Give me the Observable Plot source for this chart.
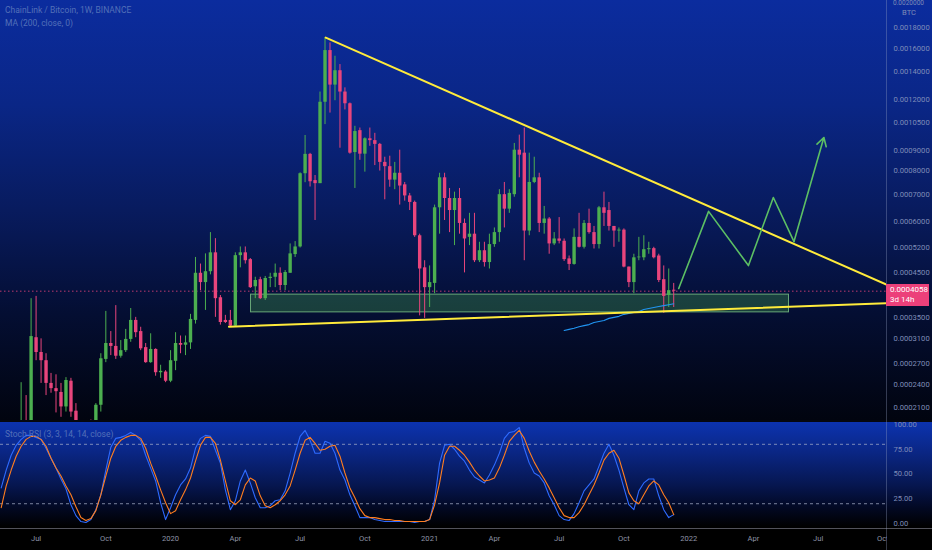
<!DOCTYPE html>
<html>
<head>
<meta charset="utf-8">
<script src="https://cdn.jsdelivr.net/npm/d3@7"></script>
<script src="https://cdn.jsdelivr.net/npm/@observablehq/plot@0.6"></script>
<style>
  body { margin: 0; background: #000; font-family: Roboto, sans-serif; }
  #wrap { position: relative; width: 932px; height: 550px; overflow: hidden; background: #000; }
  #wrap svg { display: block; }
  .lbl { position: absolute; font-size: 8.5px; color: #5370b8; white-space: nowrap; }
  .vline { position: absolute; left: 886px; top: 0; width: 1px; height: 550px; background: rgba(150,160,195,0.35); }
  .hline { position: absolute; left: 0; width: 932px; height: 1px; }
  #price { position: absolute; left: 886px; width: 43px; height: 22px; background: #ec407a; color: #fff;
           font-size: 8px; line-height: 10px; padding: 1px 0 0 4px; box-sizing: border-box; }
</style>
</head>
<body>
<div id="wrap"></div>
<script>
// weekly candles, LINK/BTC, values in 1e-4 BTC, first candle = week of 2019-06-10
const firstWeek = new Date("2019-06-10");
const open = [1.30,1.90,1.80,3.12,2.87,2.74,2.41,2.34,2.29,2.11,
  2.44,2.06,1.90,1.80,1.92,1.90,2.13,2.76,3.02,2.97,
  2.81,2.90,3.09,3.44,3.23,2.95,2.71,2.92,2.56,2.57,
  2.44,2.73,3.02,2.99,3.03,3.44,4.49,4.26,4.53,5.04,
  3.91,3.44,3.44,3.33,4.96,5.04,4.85,4.16,4.33,3.89,
  4.36,4.39,4.49,4.19,4.49,4.99,5.21,7.88,8.79,7.58,
  7.45,11.8,15.8,13.0,14.1,12.5,11.7,8.88,10.05,8.80,
  9.6,9.5,9.3,8.4,8.2,7.6,7.9,7.4,6.95,6.7,
  5.55,4.63,4.14,4.24,6.5,7.7,6.85,6.4,6.85,5.95,
  5.5,5.6,4.82,5.1,4.77,5.28,5.65,7.0,6.45,7.0,
  9.0,8.85,5.7,7.5,7.7,5.95,6.1,5.3,5.45,5.38,
  4.87,4.72,5.5,5.2,5.95,5.65,5.28,6.5,6.4,5.85,
  5.7,5.73,4.65,4.26,4.9,4.9,5.13,5.16,4.95,4.33,
  3.96,4.08];
const high = [2.42,2.25,3.89,3.94,3.10,2.85,2.55,2.53,2.41,2.49,
  2.48,2.15,1.94,1.93,1.96,2.15,2.85,3.62,3.23,3.74,
  3.07,3.27,3.68,3.50,3.31,3.02,3.19,2.93,2.67,2.59,
  2.90,3.21,3.15,3.15,3.56,4.91,4.73,5.01,5.65,5.46,
  3.96,3.54,3.64,5.04,5.21,5.21,4.88,4.39,4.39,4.41,
  4.49,4.73,4.63,4.56,5.30,5.37,7.92,9.78,8.84,7.80,
  12.5,17.0,16.5,15.3,14.6,12.8,11.75,10.3,10.2,9.65,
  10.2,9.9,9.35,8.65,8.7,8.4,9.0,7.5,7.05,6.75,
  5.6,4.82,4.68,6.6,7.9,7.9,7.25,7.1,7.25,6.1,
  6.3,6.3,5.35,5.35,5.6,5.8,7.2,7.5,7.2,9.35,
  9.8,10.2,8.85,8.65,7.9,6.55,6.15,5.65,6.15,5.45,
  4.95,5.77,6.3,6.05,6.45,5.85,6.55,7.1,6.7,5.85,
  5.8,5.77,4.65,5.0,5.5,5.55,5.35,5.2,5.0,4.68,
  4.6,4.24];
const low = [1.28,1.70,1.78,2.74,2.41,2.25,2.28,2.04,1.99,2.05,
  1.99,1.85,1.75,1.74,1.80,1.86,2.05,2.71,2.82,2.76,
  2.78,2.87,3.04,3.12,2.90,2.70,2.70,2.51,2.48,2.42,
  2.42,2.59,2.85,2.82,2.92,3.37,4.07,3.64,4.45,3.50,
  3.35,3.38,3.31,3.31,4.63,4.73,4.12,3.89,3.87,3.85,
  4.14,4.14,4.07,4.07,4.49,4.91,5.18,7.49,7.31,6.05,
  7.45,10.4,11.1,11.9,9.1,11.3,8.8,7.25,8.50,7.95,
  9.2,8.25,8.0,6.8,7.3,7.2,6.6,6.75,6.4,5.5,
  3.53,3.48,3.70,4.0,5.6,6.05,5.65,5.25,5.6,4.5,
  5.25,4.77,4.77,4.65,4.6,5.2,5.35,5.8,6.3,6.9,
  7.7,4.82,5.55,7.45,5.65,5.6,5.0,5.25,5.3,4.8,
  4.56,4.7,5.18,5.15,5.6,5.15,5.15,5.85,5.7,5.2,
  5.35,4.63,4.14,4.0,4.82,4.82,5.0,4.87,4.26,3.58,
  3.7,3.7];
const close = [1.90,1.80,3.14,2.87,2.74,2.41,2.34,2.30,2.11,2.45,
  2.05,1.90,1.80,1.88,1.88,2.13,2.77,3.02,2.97,2.81,
  2.90,3.09,3.44,3.21,2.93,2.71,2.92,2.56,2.58,2.44,
  2.74,3.02,2.99,3.03,3.46,4.49,4.26,4.53,5.04,3.89,
  3.40,3.40,3.33,4.96,5.04,4.82,4.14,4.31,3.89,4.36,
  4.39,4.49,4.19,4.51,5.01,5.21,7.88,8.79,7.53,7.45,
  11.8,15.8,13.0,14.1,12.5,11.7,8.85,10.0,8.80,9.6,
  9.5,9.3,8.4,8.2,7.6,7.9,7.35,6.95,6.7,5.55,
  4.6,4.14,4.26,6.5,7.7,6.85,6.4,6.85,5.95,5.45,
  5.6,4.82,5.1,4.77,5.28,5.65,7.0,6.45,7.05,9.0,
  8.75,5.7,7.5,7.7,5.95,6.1,5.3,5.45,5.38,4.85,
  4.72,5.5,5.2,5.95,5.65,5.28,6.5,6.3,5.85,5.7,
  5.73,4.65,4.26,4.9,4.92,5.13,5.16,4.9,4.31,3.94,
  4.07,4.058];

// MA(200) – only visible from candle 109 on
const maStart = 109;
const maVals = [3.25,3.27,3.29,3.32,3.34,3.36,3.40,3.42,3.44,3.48,3.50,3.52,
  3.56,3.58,3.60,3.62,3.66,3.68,3.70,3.72,3.74,3.76,3.78];

// Stoch RSI, starts 4 weeks before the first candle
const stochStart = -4;
const stochK = [36,54,69,79, 85,89,89,87,85,76,66,56,45,35, 19,8,2,1,4,14,29,54,77,86,
  87,89,92,89,84,69,56,43,21,4, 16,29,39,45,56,76,86,89,88,74, 61,34,14,23,43,54,41,26,16,16,
  18,23,24,33,51,71,88,94,84,71, 71,83,81,71,54,44,29,18,6,6, 6,4,3,2,2,2,2,2,2,1,
  2,2,4,24,61,79,80,75,68,63, 54,47,44,41,49,59,71,86,92,93, 97,76,61,51,48,41,28,19,8,4,
  3,10,21,33,39,45,58,71,80,69, 54,36,19,14,33,41,45,45,28,14, 6,9];
const stochD = [16,38,54,68, 78,85,88,88,85,78,66,56,48,38, 29,17,6,3,5,13,29,48,66,78,
  84,87,89,89,86,76,61,48,34,21, 10,13,24,34,46,63,79,87,87,81, 64,43,23,19,24,39,46,43,28,18,
  16,19,23,29,38,54,71,84,87,81, 74,75,78,79,68,51,36,26,15,8, 6,6,5,4,4,3,3,2,2,2,
  2,2,4,19,41,69,78,78,74,69, 62,54,48,43,44,46,56,69,83,89, 94,86,73,62,53,45,36,26,16,8,
  6,6,11,19,29,39,51,64,71,74, 66,49,31,23,20,29,38,43,39,29, 21,9];

// drawings on the chart (dates, price in 1e-4 BTC)
const upperTrend = [["2020-08-11", 17.0], ["2022-10-08", 4.21]];
const lowerTrend = [["2020-03-28", 3.32], ["2022-10-08", 3.79]];
const zone = {from: "2020-04-28", to: "2022-05-24", lo: 3.60, hi: 3.98};
const projection = [["2021-12-20", 4.12], ["2022-01-31", 6.37], ["2022-03-28", 4.69],
  ["2022-05-02", 6.89], ["2022-05-31", 5.37], ["2022-07-12", 9.67]];

const priceTicks = [0.0018, 0.0016, 0.0014, 0.0012, 0.00105, 0.0009, 0.0008, 0.0007, 0.0006,
  0.00052, 0.00045, 0.00035, 0.00031, 0.00027, 0.00024, 0.00021];
const stochTicks = [0, 25, 50, 75, 100];
const timeTicks = ["2019-07-01","2019-10-07","2020-01-06","2020-04-06","2020-07-06","2020-10-05",
  "2021-01-04","2021-04-05","2021-07-05","2021-10-04","2022-01-03","2022-04-04","2022-07-04","2022-10-03"];

const DAY = 864e5;
const weekOf = i => new Date(firstWeek.getTime() + i * 7 * DAY);
const green = "#4caf50", pink = "#e8457c";
const xDomain = [new Date("2019-05-12"), new Date("2022-10-08")];

const candles = open.map((o, i) => ({
  date: weekOf(i), open: o * 1e-4, high: high[i] * 1e-4, low: low[i] * 1e-4, close: close[i] * 1e-4
}));
candles.forEach(d => d.color = d.close >= d.open ? green : pink);
const ma = maVals.map((v, j) => ({date: weekOf(maStart + j), v: v * 1e-4}));
const pts = a => a.map(([d, v]) => ({date: new Date(d), v: v * 1e-4}));
const proj = pts(projection);
const lastClose = candles[candles.length - 1].close;

const axisColor = "#7f8cb8";

const main = Plot.plot({
  width: 932, height: 420,
  marginLeft: 0, marginRight: 46, marginTop: 0, marginBottom: 0,
  style: {background: "linear-gradient(#0b2c9e 0%, #0a2686 25%, #081b5e 50%, #040e32 75%, #01040f 100%)",
          fontFamily: "Roboto, sans-serif", fontSize: "7.6px", overflow: "hidden"},
  x: {type: "utc", domain: xDomain, axis: null},
  y: {type: "log", domain: [1.9544e-4, 2.0966e-3], axis: null},
  color: {type: "identity"},
  marks: [
    Plot.axisY({anchor: "right", ticks: priceTicks, tickSize: 0, tickPadding: 7,
      tickFormat: d => d.toFixed(7), fill: axisColor}),
    Plot.rect([zone], {x1: d => new Date(d.from), x2: d => new Date(d.to), y1: d => d.lo * 1e-4, y2: d => d.hi * 1e-4,
      fill: green, fillOpacity: 0.3, stroke: "#86d08c", strokeOpacity: 0.75}),
    Plot.ruleY([lastClose], {stroke: pink, strokeDasharray: "1.5,2.5", strokeOpacity: 0.8}),
    Plot.ruleX(candles, {x: "date", y1: "low", y2: "high", stroke: "color", strokeWidth: 1, clip: true}),
    Plot.ruleX(candles, {x: "date", y1: "open", y2: "close", stroke: "color", strokeWidth: 3.4, clip: true}),
    Plot.line(ma, {x: "date", y: "v", stroke: "#2196f3", strokeWidth: 1.1}),
    Plot.line(pts(upperTrend), {x: "date", y: "v", stroke: "#ffeb3b", strokeWidth: 2, clip: true}),
    Plot.line(pts(lowerTrend), {x: "date", y: "v", stroke: "#ffeb3b", strokeWidth: 2, clip: true}),
    Plot.line(proj.slice(0, 5), {x: "date", y: "v", stroke: "#5cbf64", strokeWidth: 1.6}),
    Plot.arrow([[proj[4], proj[5]]], {x1: d => d[0].date, y1: d => d[0].v, x2: d => d[1].date, y2: d => d[1].v,
      stroke: "#5cbf64", strokeWidth: 1.6, headLength: 9})
  ]
});

const stochRows = stochK.map((k, j) => ({date: weekOf(stochStart + j), k, d: stochD[j]}));

const stoch = Plot.plot({
  width: 932, height: 130,
  marginLeft: 0, marginRight: 46, marginTop: 4, marginBottom: 23,
  style: {background: "linear-gradient(#0c34b2 0%, #0a2684 25%, #061650 50%, #020822 68%, #000 82%, #000 100%)",
          fontFamily: "Roboto, sans-serif", fontSize: "7.6px"},
  x: {type: "utc", domain: xDomain},
  y: {domain: [-4, 100]},
  marks: [
    Plot.ruleY([80, 20], {stroke: "#a3abc6", strokeOpacity: 0.75, strokeDasharray: "3,3"}),
    Plot.line(stochRows, {x: "date", y: "k", stroke: "#2f6bff", strokeWidth: 1.1}),
    Plot.line(stochRows, {x: "date", y: "d", stroke: "#ff7d1f", strokeWidth: 1.1}),
    Plot.axisY({anchor: "right", ticks: stochTicks, tickSize: 0, tickPadding: 7,
      tickFormat: d => d.toFixed(2), fill: axisColor}),
    Plot.axisX({ticks: timeTicks.map(t => new Date(t)), tickSize: 0, tickPadding: 8, fill: "#8d93a6",
      tickFormat: d => d.getUTCMonth() === 0 ? String(d.getUTCFullYear()) : d3.utcFormat("%b")(d)})
  ]
});

const wrap = d3.select("#wrap");
wrap.append(() => main);
wrap.append(() => stoch);

// overlays: pane separators, legends, price label
wrap.append("div").attr("class", "hline").style("top", "420px").style("height", "2px").style("background", "#05070f");
wrap.append("div").attr("class", "hline").style("top", "528px").style("background", "rgba(150,150,165,0.55)");
wrap.append("div").style("position", "absolute").style("left", "887px").style("top", "529px")
  .style("width", "45px").style("height", "21px").style("background", "#000");
wrap.append("div").attr("class", "vline");

wrap.append("div").attr("class", "lbl").style("left", "5px").style("top", "5px").text("ChainLink / Bitcoin, 1W, BINANCE");
wrap.append("div").attr("class", "lbl").style("left", "5px").style("top", "18px").text("MA (200, close, 0)");
wrap.append("div").attr("class", "lbl").style("left", "5px").style("top", "429px").text("Stoch RSI (3, 3, 14, 14, close)");
wrap.append("div").attr("class", "lbl").style("left", "893px").style("top", "0px").style("color", axisColor)
  .style("font-size", "6.5px").style("line-height", "7px").text("0.0020000");
wrap.append("div").attr("class", "lbl").style("left", "902px").style("top", "8px").style("color", axisColor)
  .style("font-size", "7.6px").text("BTC");

const py = main.scale("y").apply(lastClose);
wrap.append("div").attr("id", "price").style("top", (py - 7) + "px")
  .html(`${lastClose.toFixed(7)}<br>3d 14h`);
</script>
</body>
</html>
